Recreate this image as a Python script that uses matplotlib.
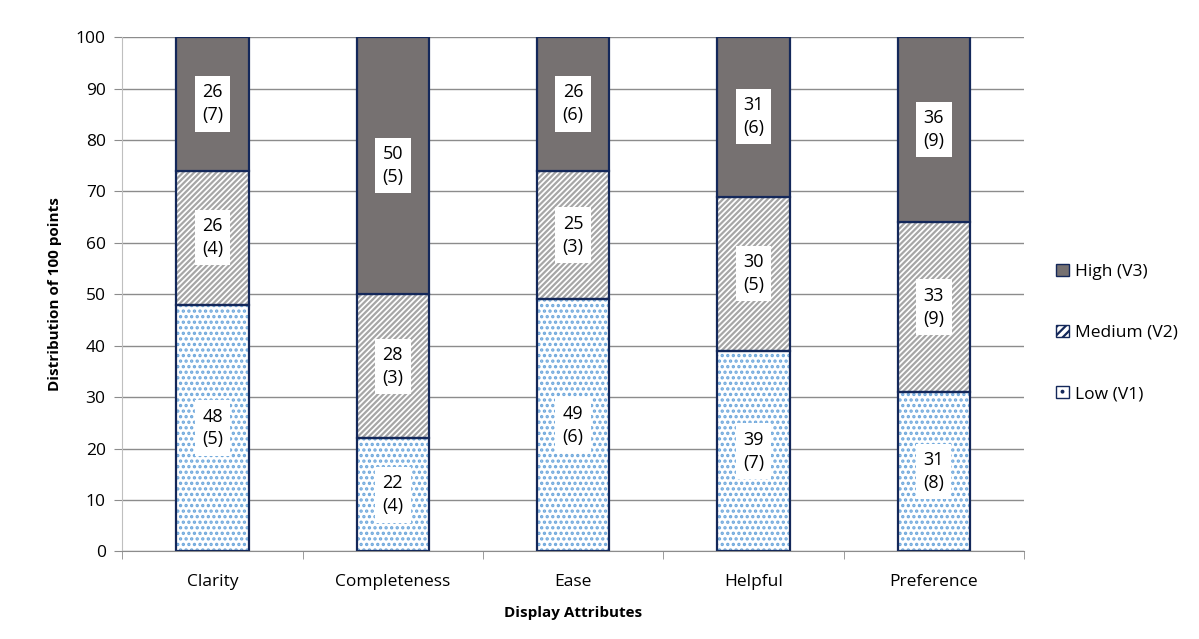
import numpy as np
import matplotlib.pyplot as plt
from matplotlib.patches import Patch

plt.rcParams['font.family'] = ['Open Sans', 'DejaVu Sans']
plt.rcParams['hatch.linewidth'] = 1.6

attributes = ['Clarity', 'Completeness', 'Ease', 'Helpful', 'Preference']
low_v1 = [48, 22, 49, 39, 31]
medium_v2 = [26, 28, 25, 30, 33]
high_v3 = [26, 50, 26, 31, 36]
low_sd = [5, 4, 6, 7, 8]
medium_sd = [4, 3, 3, 5, 9]
high_sd = [7, 5, 6, 6, 9]

edge = '#14285a'
fig = plt.figure(figsize=(11.99, 6.39), dpi=100)
ax = fig.add_axes([0.102, 0.137, 0.752, 0.805])

x = np.arange(len(attributes))
w = 0.4
low = np.array(low_v1)
med = np.array(medium_v2)
high = np.array(high_v3)

# слои: низкий (точки), средний (штриховка), высокий (заливка)
ax.bar(x, low, w, color='white', edgecolor='#6fa8dc', hatch='...', linewidth=0, zorder=2)
ax.bar(x, low, w, fill=False, edgecolor=edge, linewidth=1.6, zorder=3)
ax.bar(x, med, w, bottom=low, color='white', edgecolor='#a6a6a6', hatch='//////', linewidth=0, zorder=2)
ax.bar(x, med, w, bottom=low, fill=False, edgecolor=edge, linewidth=1.6, zorder=3)
ax.bar(x, high, w, bottom=low + med, color='#767171', edgecolor=edge, linewidth=1.6, zorder=3)

box = dict(boxstyle='square,pad=0.4', fc='white', ec='none')
for i in range(len(attributes)):
    ax.text(x[i], low[i] / 2, '%d\n(%d)' % (low_v1[i], low_sd[i]), ha='center', va='center',
            fontsize=13, linespacing=1.35, bbox=box, zorder=4)
    ax.text(x[i], low[i] + med[i] / 2, '%d\n(%d)' % (medium_v2[i], medium_sd[i]), ha='center',
            va='center', fontsize=13, linespacing=1.35, bbox=box, zorder=4)
    ax.text(x[i], low[i] + med[i] + high[i] / 2, '%d\n(%d)' % (high_v3[i], high_sd[i]), ha='center',
            va='center', fontsize=13, linespacing=1.35, bbox=box, zorder=4)

ax.set_xlim(-0.5, len(attributes) - 0.5)
ax.set_ylim(0, 100)
ax.set_yticks(np.arange(0, 101, 10))
ax.yaxis.grid(True, color='#8c8c8c', linewidth=1)
ax.set_axisbelow(True)
ax.set_xticks(x)
ax.set_xticklabels(attributes, fontsize=12.5)
ax.tick_params(axis='x', length=0, pad=16)
ax.set_xticks(np.arange(-0.5, len(attributes), 1), minor=True)
ax.tick_params(axis='x', which='minor', length=6, color='#8c8c8c')
ax.tick_params(axis='y', labelsize=12.5, length=6, color='#8c8c8c', pad=6)
for s in ['top', 'right']:
    ax.spines[s].set_visible(False)
ax.spines['left'].set_color('#bfbfbf')
ax.spines['bottom'].set_color('#8c8c8c')
ax.set_xlabel('Display Attributes', fontsize=11, fontweight='bold', labelpad=12)
ax.set_ylabel('Distribution of 100 points', fontsize=11, fontweight='bold', labelpad=10)

handles = [Patch(facecolor='#767171', edgecolor=edge),
           Patch(facecolor='white', edgecolor=edge, hatch='////'),
           Patch(facecolor='white', edgecolor=edge, hatch='..')]
fig.legend(handles, ['High (V3)', 'Medium (V2)', 'Low (V1)'], loc='center left',
           bbox_to_anchor=(0.868, 0.479), frameon=False, fontsize=12.5, handlelength=0.7,
           handleheight=0.7, labelspacing=2.6, handletextpad=0.4)

fig.savefig('out.png', dpi=100)
